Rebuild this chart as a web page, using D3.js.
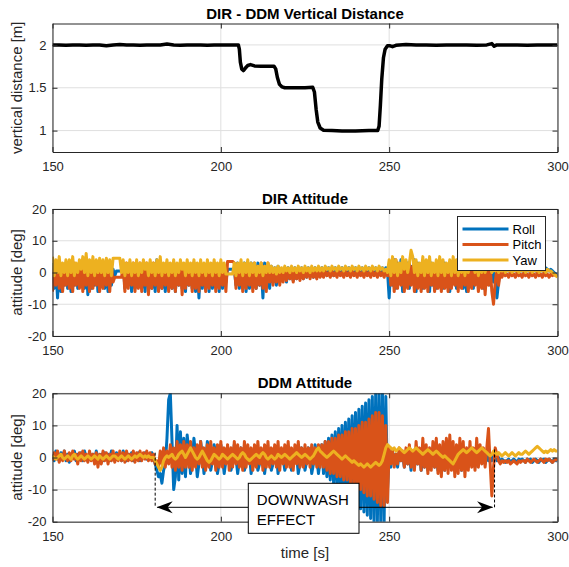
<!DOCTYPE html>
<html>
<head>
<meta charset="utf-8">
<script src="https://cdn.jsdelivr.net/npm/d3@7"></script>
<style>
  body { margin: 0; background: #fff; }
  svg { display: block; }
  text { font-family: "Liberation Sans", Arial, Helvetica, sans-serif; }
</style>
</head>
<body>
<div id="plot"></div>
<script>
// ---- data ----
const xTicks = [150, 200, 250, 300];
const distTicks = [1, 1.5, 2];
const attTicks = [-20, -10, 0, 10, 20];
const seriesNames = ["Roll", "Pitch", "Yaw"];
const seriesColors = ["#0072BD", "#D95319", "#EDB120"];

// vertical distance DIR - DDM [m]
const distTime = [150, 152, 154, 156, 158, 160, 162, 164, 166, 168, 170, 172, 174, 176, 178, 180, 182, 184, 186, 188,
  190, 192, 194, 196, 198, 200, 202, 204, 205.2, 205.5, 205.8, 206.2, 206.7, 207.3, 208, 208.8, 210, 212, 214, 215.8,
  216.3, 216.8, 217.4, 218.2, 219, 222, 225, 227.3, 227.8, 228.3, 228.8, 229.5, 230.5, 233, 236, 240, 244, 246.6, 247,
  247.4, 247.8, 248.3, 248.8, 249.5, 250.3, 251, 252, 253, 255, 258, 261, 264, 267, 270, 273, 276, 279, 280.5, 281.2,
  282, 285, 288, 291, 294, 297, 300];
const distValue = [2.0, 2.0, 1.995, 2.0, 2.0, 1.995, 2.0, 2.0, 1.99, 2.0, 2.005, 2.0, 2.0, 1.995, 2.0, 2.0, 2.0, 2.01, 2.0, 1.995,
  2.0, 2.0, 2.0, 1.995, 2.0, 2.0, 2.0, 2.0, 2.0, 1.95, 1.80, 1.72, 1.70, 1.73, 1.76, 1.77, 1.755, 1.75, 1.75, 1.75,
  1.72, 1.62, 1.54, 1.51, 1.50, 1.50, 1.50, 1.505, 1.45, 1.25, 1.10, 1.03, 1.005, 1.0, 0.995, 0.995, 1.0, 1.0, 1.05,
  1.3, 1.6, 1.85, 1.95, 1.99, 1.99, 1.98, 1.995, 2.0, 2.005, 2.0, 2.0, 1.995, 2.0, 2.0, 2.0, 1.995, 2.0, 2.015, 1.985,
  2.0, 2.0, 2.0, 1.995, 2.0, 2.0, 2.0];

// DIR attitude [deg], two samples per second from t = 150 s (one row = 5 s)
const dirStart = 150, dirStep = 0.5;
const dirRoll = [
  3, -5, 2, -8, 3, -6, 2, -4, 3, -5,
  2, -6, 3, -4, 2, -5, 3, -3, 2, -5,
  3, -7, 2, -5, 3, -4, 2, -6, 3, -4,
  2, -5, 3, -6, 2, -4, 1, -1, 0.5, 0.5,
  0.5, 0.5, 3, -5, 2, -4, 3, -6, 2, -5,
  3, -4, 2, -5, 3, -6, 2, -4, 3, -5,
  2, -6, 4, -4, 3, -5, 2, -6, 3, -4,
  2, -5, 3, -6, 2, -4, 3, -5, 2, -6,
  3, -4, 2, -5, 3, -6, 2, -8, 3, -5,
  2, -4, 3, -6, 2, -5, 3, -4, 2, -6,
  3, -5, 2, -3, 1, 1, 1, 1, 1, -4,
  3, -5, 2, -4, 3, -6, 2, -5, 3, -4,
  2, -5, 3, -4, 2, -8, 3, -4, 2, -5,
  2, -3, 1.5, -4, 2, -3, 1, -2, 1.5, -3,
  1.5, -2, 1, -2.5, 1.5, -2, 1, -1.5, 1.5, -2,
  1, -1.5, 1.5, -1, 1, -1.5, 1.5, -1, 1, -1,
  1.5, -0.5, 1, -1, 1.5, -0.5, 1, -1, 1.5, 0,
  1, -0.5, 1.5, 0, 1, -0.5, 1.5, 0, 1, -0.5,
  1.5, 0, 1, 0.5, 1.5, 0, 1, 0.5, 1.5, 0,
  1, 0.5, 1.5, 0, 1, 0.5, 1.5, 0, 1.5, 0.5,
  -8, 3, -4, 4, -5, 3, -2, 4, -6, 3,
  -4, 3, -5, 2, -3, 4, -6, 3, -4, 2,
  -5, 3, -4, 2, -6, 3, -4, 2, -5, 3,
  -4, 2, -5, 3, -4, 2, -6, 3, -3, 2,
  -5, 3, -4, 2, -5, 3, -6, 2, -4, 3,
  -5, 2, -3, 3, -4, 2, -5, 3, -3, 2,
  -4, 2, -3, 1, -8, -3, 2, 1, 1.5, 1,
  1.5, 0.5, 1.5, 1, 1.5, 0.5, 1.5, 1, 1.5, 0.5,
  1.5, 1, 1.5, 0.5, 1.5, 1, 1.5, 0.5, 1.5, 1,
  1.5, 0.5, 1, 1.5, 1, 0.5, 1, 0.5, 0, -0.5,
  -1];
const dirPitch = [
  -6, 2, -4, 3, -5, 2, -6, 1, -4, 3,
  -5, 2, -6, 3, -4, 2, -5, 3, -6, 2,
  -4, 3, -6, 2, -5, 3, -4, 2, -6, 3,
  -5, 2, -4, 3, -6, 2, -3, -1.5, -1.5, -1.5,
  -1.5, -1.5, 2, -6, 3, -5, 2, -4, 3, -6,
  2, -5, 3, -6, 2, -4, 3, -7, 2, -5,
  3, -4, 2, -6, 3, -5, 2, -4, 3, -6,
  2, -5, 3, -6, 2, -4, 3, -7, 2, -5,
  3, -4, 2, -6, 3, -5, 2, -6, 3, -4,
  2, -6, 3, -5, 2, -4, 3, -6, 2, -5,
  3, -4, 2, -6, 3.5, 3.5, 3.5, 3.5, 3, -5,
  2, -4, 3, -6, 2, -5, 3, -4, 2, -6,
  3, -5, 2, -4, 3, -5, 2, -6, 3, -3,
  1.5, -4, 1, -3, 1.5, -4, 1, -3, 1, -2.5,
  1, -2, 0.5, -3, 1, -2, 0.5, -2.5, 1, -2,
  0.5, -1.5, 1, -2, 0.5, -1.5, 0, -2, 0.5, -1.5,
  0, -1.5, 0.5, -1, 0, -1.5, 0.5, -1, 0, -1.5,
  0.5, -1, 0, -1.5, 0.5, -1, 0, -1.5, 0.5, -1,
  0, -1.5, 0.5, -1, 0, -1.5, 0.5, -1, 0, -1.5,
  0.5, -1, 0, -1.5, 0.5, -1, 0, -1.5, 0.5, -1,
  2, -4, 3, -6, 4, -5, 2, -4, 3, -6,
  2, -5, 3, -4, 2, -6, 3, -5, 2, -6,
  3, -5, 2, -6, 3, -4, 2, -6, 1, -5,
  2, -6, 3, -5, 2, -6, 1, -5, 2, -4,
  3, -6, 2, -5, 3, -4, 1, -6, 2, -5,
  3, -4, 1, -6, 2, -5, 3, -7, 1, -4,
  2, -6, -10, -3, 1, -4, 0, -1.5, 0, -1,
  -0.5, -1.5, 0, -1, -0.5, -1.5, 0, -1, -0.5, -1.5,
  0, -1, -0.5, -1.5, 0, -1, -0.5, -1.5, 0, -1,
  -0.5, -1.5, 0, -1, -0.5, -1.5, -0.5, -1, -0.5, -1,
  -1];
const dirYaw = [
  5, -1, 4, 0, 5, -1, 3, 0, 4, -1,
  4, 0, 5, -1, 3, 0, 4, 1, 5, 0,
  6, -1, 4, 0, 5, -1, 4, 0, 4.5, 0,
  4, -1, 4.5, 0, 4, -1, 4.5, 4.5, 4.5, 4.5,
  4.5, 0, 4, -1, 3, 0, 4, -1, 3, 0,
  4, -1, 3, 0, 4, 1, 3, -1, 4, 0,
  3, -1, 4, 0, 5, -1, 3, 0, 4, -1,
  3, 0, 4, -1, 3, 0, 4, 1, 3, -1,
  4, 0, 3, -1, 4, 0, 3, -1, 4, 0,
  3, -1, 4, 0, 3, -1, 4, 0, 3, -1,
  4, 0, 3, -0.5, -0.5, -0.5, -0.5, -0.5, 3, -1,
  3, 0, 4, -1, 3, 0, 4, -1, 3, 0,
  3, -1, 2, 0, 3, -1, 2, 0, 3, 0,
  2, 0, 1.5, -0.5, 2, 0, 1.5, 0, 2, 0.5,
  1.5, 0, 2, 0.5, 1.5, 0, 2, 0.5, 1.5, 0,
  2, 0.5, 1.5, 0, 2, 0.5, 1.5, 0.5, 2, 0.5,
  1.5, 0.5, 2, 1, 1.5, 0.5, 2, 1, 1.5, 0.5,
  2, 1, 1.5, 0.5, 2, 1, 1.5, 0.5, 2, 1,
  1.5, 0.5, 2, 1, 1.5, 0.5, 2, 1, 1.5, 0.5,
  2, 1, 1.5, 0.5, 2, 1, 1.5, 0.5, 1, 0,
  4, -1, 5, 0, 4, -1, 3, 0, 5, 1,
  4, 0, 3, 7, 5, 0, 4, -1, 3, 0,
  5, -1, 4, 0, 5, -1, 3, 0, 4, -1,
  5, 0, 4, -1, 3, 0, 4, -1, 5, 0,
  4, -1, 3, 0, 4, -1, 3, 0, 4, 1,
  3, 0, 4, -1, 3, 0, 4, 0, 3, 1,
  2, 0, 1, 0.5, 1.5, 0, 1, 0.5, 1.5, 0,
  1, 0.5, 1.5, 0, 1, 0.5, 1.5, 0, 1, 0.5,
  1.5, 0, 1, 0.5, 1.5, 0, 1, 0.5, 1.5, 0,
  1, 0.5, 1.5, 0, 1, 0.5, 0.5, 0, -0.5, -1,
  -1.5];

// DDM attitude [deg], two samples per second from t = 150 s (one row = 5 s)
const ddmStart = 150, ddmStep = 0.5;
const ddmRoll = [
  1, -1, 2, 0, -1, 1.5, -0.5, 2, -1, 1,
  -1.5, 1, 0, 2, -1, 1, -0.5, 1.5, -1, 2,
  0, -1, 1.5, -0.5, 1, -1.5, 2, 0, -1, 1,
  -1, 1.5, -0.5, 1, -1, 2, 0, -1, 1.5, -0.5,
  1, -1, 2, 0, -1, 1, -0.5, 1.5, -1, 1,
  -0.5, 1.5, -1, 1, 0, 1.5, -0.5, 1, 0, 1.5,
  0, -2, -4, -6, -5, -8, -4, -2, 6, 18,
  20, 5, -10, -6, 10, -7, 8, -5, 6, -6,
  7, 2, -5, -2, 6, 1, -6, -2, 5, 1,
  -5, -1, 5, 1, -4, -1, 4, 1, -5, -2,
  4, 0, -5, -1, 3, 1, -4, -2, 4, 0,
  -5, -1, 3, 0, -4, -2, 3, 1, -5, -1,
  3, 0, -4, -2, 2, 1, -5, -1, 3, 0,
  -4, -2, 3, 1, -5, -1, 2, 0, -4, -2,
  3, 0, -4, -1, 2, 1, -5, -2, 3, 0,
  -4, -1, 3, 1, -5, -2, 4, 0, -5, -1,
  4, -5, 5, -6, 6, -7, 7, -8, 8, -9,
  9, -10, 10, -11, 11, -12, 12, -13, 13, -14,
  14, -15, 15, -16, 16, -17, 17, -18, 18, -19,
  19, -20, 20, -20, 20, -20, 20, -20, 19, -10,
  1, -3, 2, -2, 1, -3, 2, -1, 1, -3,
  2, -2, 1, -4, 2, -3, 1, -2, 2, -4,
  1, -3, 2, -4, 1, -2, 2, -3, 1, -4,
  2, -3, 1, -4, 2, -2, 1, -3, 2, -4,
  1, -3, 2, -4, 1, -2, 2, -3, 1, -2,
  2, -3, 1, -2, 2, -1, 1, -2, 2, -1,
  0, -1, 1, -0.5, -1, 0, -1.5, -0.5, -1, -1.5,
  -1, -0.5, -1.5, -1, -0.5, -1, -1.5, -0.5, -1, -0.5,
  -1, -1.5, -0.5, -1, -0.5, -1.5, -1, -0.5, -1, -1.5,
  -0.5, -1, -0.5, -1.5, -1, -0.5, -1, -1.5, -0.5, -1,
  -1];
const ddmPitch = [
  -1, 1.5, -0.5, 2, -1.5, 1, -1, 2, 0, -1,
  1.5, -1, 2, -0.5, 1, -2, 1.5, -1, 2, -1,
  1, -1.5, 2, -1, 1, -2, 1.5, -3, 1, -2,
  2, -1, 1.5, -2, 1, -1, 2, -1.5, 1, -1,
  2, -1, 1.5, -1.5, 2, -1, 1, -1, 2, -1.5,
  1.5, -1, 2, -1, 1.5, -0.5, 2, -1, 1.5, -1,
  1, -2, -1, -3, 2, -2, 3, -3, 2, -2,
  4, -3, 3, -4, 5, -3, 4, -4, 5, -3,
  4, -3, 5, -4, 3, -3, 4, -2, 5, -3,
  3, -4, 4, -3, 5, -2, 3, -4, 4, -3,
  5, -3, 3, -2, 4, -4, 3, -3, 5, -2,
  4, -3, 3, -4, 5, -3, 4, -2, 3, -4,
  4, -3, 5, -2, 3, -4, 4, -3, 5, -3,
  3, -2, 4, -3, 5, -4, 3, -2, 4, -3,
  5, -3, 3, -4, 4, -2, 5, -3, 3, -3,
  4, -2, 3, -3, 4, -2, 3, -3, 4, -3,
  4, -3, 5, -4, 5, -5, 6, -5, 6, -6,
  7, -6, 7, -7, 8, -7, 8, -8, 9, -9,
  9, -9, 10, -10, 11, -11, 11, -12, 12, -12,
  13, -13, 14, -14, 14, -15, 13, -15, 10, -14,
  3, -2, 2, -3, 1, -2, 3, -1, 2, -3,
  3, -2, 4, -3, 2, -4, 5, -2, 3, -4,
  6, -3, 4, -5, 3, -4, 5, -3, 6, -5,
  4, -6, 5, -4, 6, -5, 7, -4, 5, -6,
  4, -5, 6, -4, 5, -6, 3, -4, 5, -3,
  3, -4, 6, -3, 4, -2, 3, -3, 3, 9,
  -2, -12, -3, 3, 1, -1, -2, -1, -1.5, -1,
  -1.5, -1, -2, -1.5, -1, -1.5, -2, -1, -1.5, -1,
  -1, -1.5, -0.5, -1, -1.5, -1, -0.5, -1, -1.5, -1,
  -0.5, -1, -1.5, -0.5, -1, -0.5, -1, -1.5, -1, -0.5,
  -1];
const ddmYaw = [
  0.5, 0, -0.5, 0, 0.5, 1, 0, -0.5, 0, 0.5,
  0, -0.5, 0.5, 1, 0, -0.5, 0, 0.5, 0, -0.5,
  0, 0.5, 0, -0.5, 0, 0.5, 0, -0.5, 0.5, 0,
  -0.5, 0, 0.5, 0, -0.5, 0, 0.5, 0.5, 0, -0.5,
  0, 0.5, 0, -0.5, 0, 0.5, 0, -0.5, 0, 0.5,
  0, 0.5, 1, 0.5, 0, 0.5, 0, 0.5, 0, 0,
  0, -1, -2, -3, -4, -3, -1, 0, 0.5, 0,
  0.5, 1, 0, -0.5, 0, 1, 1.5, 2, 1, 0,
  1, 2, 3, 2, 1, 0, -0.5, 0, 1, 2,
  1, 0, -1, -1.5, -1, 0, 1, 0.5, 0, -0.5,
  0, 1, 0.5, 0, -0.5, 0, 0.5, 1, 0.5, 0,
  -0.5, 0, 1, 1.5, 1, 0, -0.5, -1, -0.5, 0,
  0.5, 1, 0.5, 0, 1, 1.5, 1, 0, -0.5, 0,
  0.5, 0, -0.5, 0, 1, 0.5, 0, 0.5, 1, 0.5,
  0, -0.5, 0, 0.5, 1, 1.5, 1, 0.5, 0, 0.5,
  1, 0.5, 0, -0.5, 0, 0.5, 1.5, 2.5, 3, 2,
  1.5, 1, 0.5, 0, 0.5, 1, 1.5, 2, 1.5, 1,
  0.5, 0, -0.5, 0, 0.5, 0, -0.5, -1, -1.5, -1,
  -1.5, -2, -2.5, -2, -2.5, -3, -2.5, -2, -2.5, -3,
  -2.5, -2, -1.5, -2, -2.5, -2, -1, 1, 3, 4,
  3.5, 3, 2.5, 3, 2, 2.5, 3, 2.5, 2, 1.5,
  2, 2.5, 3, 2.5, 2, 2.5, 3, 2.5, 2, 1.5,
  1, 1.5, 2, 2.5, 2, 1.5, 1, 1.5, 2, 1.5,
  1, 0.5, 0, 0.5, 0, -0.5, -1, -1.5, -2, -1,
  0, 1, 1.5, 2, 2.5, 2, 1.5, 2, 2.5, 3,
  2.5, 2, 1.5, 2, 2.5, 3, 2.5, 2, 1.5, 1,
  0.5, 1, 2, 1.5, 1, 1.5, 1, 0.5, 1, 1.5,
  1, 0.5, 1, 1.5, 1, 0.5, 1, 1.5, 1, 1,
  1.5, 2, 1.5, 1, 1.5, 2, 2.5, 3, 3.5, 3,
  2.5, 2, 1.5, 2, 1.5, 2, 2.5, 2, 2.5, 2,
  2];

// downwash annotation (time span in s)
const downwashSpan = [180.5, 281.3];
const downwashText = ["DOWNWASH", "EFFECT"];

// ---- layout ----
const W = 569, H = 567;
const axisCol = "#262626", gridCol = "#dfdfdf";
const fontFam = '"Liberation Sans", Arial, Helvetica, sans-serif';

const svg = d3.select("#plot").append("svg")
  .attr("width", W).attr("height", H)
  .style("background", "#fff");

const x = d3.scaleLinear().domain([150, 300]).range([52.5, 557.5]);

const panels = [
  { id: "p1", title: "DIR - DDM Vertical Distance", ylabel: "vertical distance [m]",
    domain: [0.75, 2.25], ticks: distTicks, top: 23.5, bottom: 152 },
  { id: "p2", title: "DIR Attitude", ylabel: "attitude [deg]",
    domain: [-20, 20], ticks: attTicks, top: 209, bottom: 336 },
  { id: "p3", title: "DDM Attitude", ylabel: "attitude [deg]",
    domain: [-20, 20], ticks: attTicks, top: 393.3, bottom: 521.7 }
];

function styleAxis(g) {
  g.attr("font-family", fontFam).attr("font-size", 13);
  g.select(".domain").attr("stroke", axisCol).attr("stroke-width", 1);
  g.selectAll(".tick line").attr("stroke", axisCol);
  g.selectAll(".tick text").attr("fill", axisCol);
}

function drawPanel(p, series) {
  const y = d3.scaleLinear().domain(p.domain).range([p.bottom, p.top]);
  const g = svg.append("g");

  // grid
  g.selectAll(".gx").data(xTicks).enter().append("line")
    .attr("x1", d => x(d)).attr("x2", d => x(d))
    .attr("y1", p.top).attr("y2", p.bottom)
    .attr("stroke", gridCol).attr("stroke-width", 1);
  g.selectAll(".gy").data(p.ticks).enter().append("line")
    .attr("x1", x.range()[0]).attr("x2", x.range()[1])
    .attr("y1", d => y(d)).attr("y2", d => y(d))
    .attr("stroke", gridCol).attr("stroke-width", 1);

  // clip
  svg.append("clipPath").attr("id", "clip-" + p.id)
    .append("rect")
    .attr("x", x.range()[0]).attr("y", p.top)
    .attr("width", x.range()[1] - x.range()[0]).attr("height", p.bottom - p.top);

  const lines = g.append("g").attr("clip-path", `url(#clip-${p.id})`);
  series.forEach(s => {
    const line = d3.line()
      .x((d, i) => x(s.time ? s.time[i] : s.start + i * s.step))
      .y(d => y(d));
    lines.append("path")
      .datum(s.values)
      .attr("fill", "none")
      .attr("stroke", s.color)
      .attr("stroke-width", s.width)
      .attr("stroke-linejoin", "round")
      .attr("d", line);
  });

  // axes (box with inward ticks)
  g.append("g").attr("transform", `translate(0,${p.bottom})`)
    .call(d3.axisBottom(x).tickValues(xTicks).tickSize(-5).tickSizeOuter(0).tickPadding(10).tickFormat(d => String(d)))
    .call(styleAxis);
  g.append("g").attr("transform", `translate(0,${p.top})`)
    .call(d3.axisTop(x).tickValues(xTicks).tickSize(-5).tickSizeOuter(0).tickFormat(""))
    .call(styleAxis);
  g.append("g").attr("transform", `translate(${x.range()[0]},0)`)
    .call(d3.axisLeft(y).tickValues(p.ticks).tickSize(-5).tickSizeOuter(0).tickPadding(6).tickFormat(d => String(d)))
    .call(styleAxis);
  g.append("g").attr("transform", `translate(${x.range()[1]},0)`)
    .call(d3.axisRight(y).tickValues(p.ticks).tickSize(-5).tickSizeOuter(0).tickFormat(""))
    .call(styleAxis);

  // title & y label
  g.append("text")
    .attr("x", (x.range()[0] + x.range()[1]) / 2).attr("y", p.top - 5)
    .attr("text-anchor", "middle")
    .attr("font-size", 15).attr("font-weight", "bold").attr("fill", "#000")
    .text(p.title);
  g.append("text")
    .attr("transform", `translate(22,${(p.top + p.bottom) / 2}) rotate(-90)`)
    .attr("text-anchor", "middle")
    .attr("font-size", 15).attr("fill", axisCol)
    .text(p.ylabel);

  return y;
}

// panel 1
drawPanel(panels[0], [
  { time: distTime, values: distValue, color: "#000", width: 3.5 }
]);

// panel 2
drawPanel(panels[1], [dirRoll, dirPitch, dirYaw].map((v, i) => ({
  start: dirStart, step: dirStep, values: v, color: seriesColors[i], width: 3
})));

// panel 3
const y3 = drawPanel(panels[2], [ddmRoll, ddmPitch, ddmYaw].map((v, i) => ({
  start: ddmStart, step: ddmStep, values: v, color: seriesColors[i], width: 3
})));

// x label
svg.append("text")
  .attr("x", (x.range()[0] + x.range()[1]) / 2).attr("y", 558)
  .attr("text-anchor", "middle").attr("font-size", 15).attr("fill", axisCol)
  .text("time [s]");

// legend (panel 2)
const leg = svg.append("g").attr("transform", "translate(457.5,216.5)");
leg.append("rect").attr("width", 88).attr("height", 54)
  .attr("fill", "#fff").attr("stroke", axisCol).attr("stroke-width", 1);
seriesNames.forEach((name, i) => {
  const ry = 12.5 + i * 15.5;
  leg.append("line").attr("x1", 5).attr("x2", 51).attr("y1", ry).attr("y2", ry)
    .attr("stroke", seriesColors[i]).attr("stroke-width", 3);
  leg.append("text").attr("x", 55).attr("y", ry).attr("dy", "0.35em")
    .attr("font-size", 13).attr("fill", "#000").text(name);
});

// downwash annotation (panel 3)
const ann = svg.append("g");
const xa = x(downwashSpan[0]), xb = x(downwashSpan[1]);
const arrowY = 507.3;
const boxL = 248.3, boxR = 359, boxT = 483.3, boxB = 533.3;
[[xa, y3(1.5)], [xb, y3(2.5)]].forEach(([xx, yy]) => {
  ann.append("line").attr("x1", xx).attr("x2", xx).attr("y1", yy).attr("y2", arrowY)
    .attr("stroke", "#000").attr("stroke-width", 1).attr("stroke-dasharray", "3,2");
});
ann.append("line").attr("x1", xa + 2).attr("x2", boxL).attr("y1", arrowY).attr("y2", arrowY)
  .attr("stroke", "#000").attr("stroke-width", 1);
ann.append("line").attr("x1", boxR).attr("x2", xb - 2).attr("y1", arrowY).attr("y2", arrowY)
  .attr("stroke", "#000").attr("stroke-width", 1);
function arrowHead(tip, dir) {
  const p = d3.path();
  p.moveTo(tip, arrowY);
  p.lineTo(tip + dir * 16, arrowY - 6);
  p.lineTo(tip + dir * 11, arrowY);
  p.lineTo(tip + dir * 16, arrowY + 6);
  p.closePath();
  ann.append("path").attr("d", p.toString()).attr("fill", "#000");
}
arrowHead(xa + 1.5, 1);
arrowHead(xb - 1.5, -1);
ann.append("rect").attr("x", boxL).attr("y", boxT)
  .attr("width", boxR - boxL).attr("height", boxB - boxT)
  .attr("fill", "#fff").attr("stroke", "#000").attr("stroke-width", 1);
downwashText.forEach((t, i) => {
  ann.append("text").attr("x", boxL + 8.5).attr("y", 504.5 + i * 20)
    .attr("font-size", 15).attr("fill", "#000").text(t);
});
</script>
</body>
</html>
